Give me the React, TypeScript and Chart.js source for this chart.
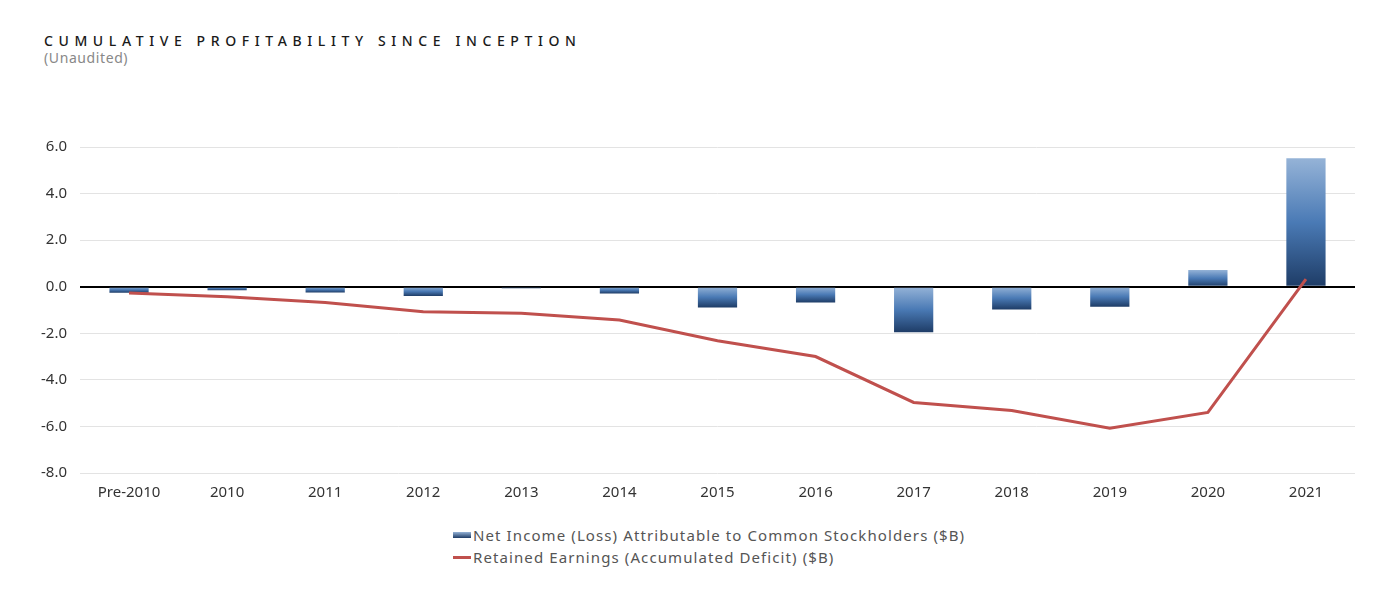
import React, { useEffect, useRef } from "react";
import { Chart, registerables } from "chart.js";

Chart.register(...registerables);

const categories = ["Pre-2010", "2010", "2011", "2012", "2013", "2014", "2015", "2016", "2017", "2018", "2019", "2020", "2021"];
const netIncome = [-0.26, -0.15, -0.25, -0.4, -0.07, -0.29, -0.89, -0.68, -1.96, -0.98, -0.86, 0.72, 5.52];
const retainedEarnings = [-0.27, -0.43, -0.68, -1.07, -1.14, -1.43, -2.32, -3.0, -4.97, -5.32, -6.08, -5.4, 0.33];
const yTicks = [6, 4, 2, 0, -2, -4, -6, -8];

const FONT = "'Noto Sans', sans-serif";

export default function App() {
  const ref = useRef<HTMLCanvasElement | null>(null);

  useEffect(() => {
    if (!ref.current) return;
    const chart = new Chart(ref.current, {
      data: {
        labels: categories,
        datasets: [
          {
            type: "line",
            label: "Retained Earnings (Accumulated Deficit) ($B)",
            data: retainedEarnings,
            borderColor: "#c0504d",
            backgroundColor: "#c0504d",
            borderWidth: 3,
            pointRadius: 0,
            tension: 0,
            order: 0,
          },
          {
            type: "bar",
            label: "Net Income (Loss) Attributable to Common Stockholders ($B)",
            data: netIncome,
            categoryPercentage: 1,
            barPercentage: 0.4,
            order: 1,
            backgroundColor: (ctx: any) => {
              const c = ctx.chart;
              const area = c.chartArea;
              if (!area || ctx.type !== "data") return "#4f81bd";
              const ys = c.scales.y;
              const v = ctx.raw as number;
              const p1 = ys.getPixelForValue(v);
              const p0 = ys.getPixelForValue(0);
              const top = Math.min(p0, p1);
              const bot = Math.max(p0, p1);
              if (bot - top < 1) return "#2f5a90";
              const g = c.ctx.createLinearGradient(0, top, 0, bot);
              g.addColorStop(0, "#95b3d7");
              g.addColorStop(0.5, "#4a7ab5");
              g.addColorStop(1, "#1e3c66");
              return g;
            },
          },
        ],
      } as any,
      options: {
        animation: false,
        responsive: false,
        maintainAspectRatio: false,
        layout: { padding: { left: 0, right: 45, top: 147, bottom: 7 } },
        plugins: {
          legend: { display: false },
          tooltip: { enabled: false },
        },
        scales: {
          x: {
            grid: { display: false },
            border: { display: false },
            ticks: {
              color: "#333",
              font: { family: FONT, size: 15 },
              padding: 3,
              maxRotation: 0,
              autoSkip: false,
            },
            afterFit: (s: any) => {
              s.height = 40;
            },
          },
          y: {
            min: -8,
            max: 6,
            afterBuildTicks: (s: any) => {
              s.ticks = yTicks.map((v) => ({ value: v }));
            },
            grid: {
              drawTicks: false,
              color: (ctx: any) => (ctx.tick && ctx.tick.value === 0 ? "#000" : "#e3e3e3"),
              lineWidth: (ctx: any) => (ctx.tick && ctx.tick.value === 0 ? 2 : 1),
            },
            border: { display: false },
            ticks: {
              color: "#333",
              font: { family: FONT, size: 15 },
              padding: 13,
              callback: (v: any) => Number(v).toFixed(1),
            },
            afterFit: (s: any) => {
              s.width = 80;
            },
          },
        },
      } as any,
    });
    return () => chart.destroy();
  }, []);

  const legendText: React.CSSProperties = {
    fontFamily: FONT,
    fontSize: 15,
    color: "#555",
    lineHeight: "22px",
    letterSpacing: "1.1px",
    whiteSpace: "nowrap",
  };

  return (
    <div style={{ position: "absolute", left: 0, top: 0, width: 1400, height: 594, background: "#fff", overflow: "hidden" }}>
      <div
        style={{
          position: "absolute",
          left: 44,
          top: 31,
          fontFamily: FONT,
          fontSize: 14,
          letterSpacing: "5.6px",
          color: "#1a1a1a",
          whiteSpace: "nowrap",
          fontWeight: 500,
        }}
      >
        CUMULATIVE PROFITABILITY SINCE INCEPTION
      </div>
      <div style={{ position: "absolute", left: 44, top: 48, fontFamily: FONT, fontSize: 14, color: "#888", letterSpacing: "0.6px" }}>
        (Unaudited)
      </div>
      <canvas ref={ref} width={1400} height={520} style={{ position: "absolute", left: 0, top: 0, width: 1400, height: 520 }} />
      <div style={{ position: "absolute", left: 453, top: 524 }}>
        <div style={{ display: "flex", alignItems: "center", ...legendText }}>
          <span
            style={{
              display: "inline-block",
              width: 18,
              height: 6,
              marginRight: 2,
              background: "linear-gradient(#95b3d7, #1e3c66)",
            }}
          />
          Net Income (Loss) Attributable to Common Stockholders ($B)
        </div>
        <div style={{ display: "flex", alignItems: "center", ...legendText }}>
          <span style={{ display: "inline-block", width: 18, height: 3, marginRight: 2, background: "#c0504d" }} />
          Retained Earnings (Accumulated Deficit) ($B)
        </div>
      </div>
    </div>
  );
}
